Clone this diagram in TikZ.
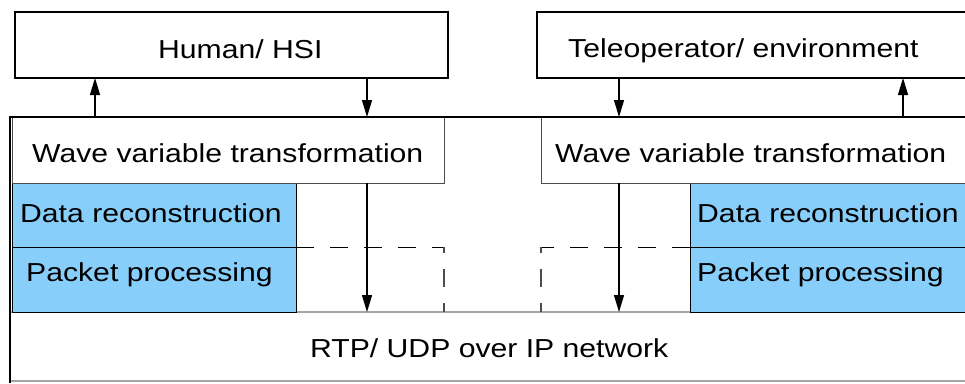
\documentclass[tikz,border=0pt]{standalone}
\usepackage{fontspec}
\setmainfont{Liberation Sans}[FakeStretch=1.16]
\usetikzlibrary{arrows.meta}
\definecolor{skyb}{HTML}{87CEFA}
\tikzset{
  box/.style={draw=black, line width=1.3pt, inner sep=0pt, outer sep=0pt, anchor=north west},
  bluebox/.style={box, fill=skyb, line width=1pt},
  lbl/.style={inner sep=0pt, anchor=base west, font=\fontsize{26}{30}\selectfont},
  dsh/.style={draw=black, line width=1pt, dash pattern=on 18pt off 16pt},
  vdsh/.style={draw=black!70, line width=1.2pt, dash pattern=on 18pt off 16pt, dash phase=12pt},
  arr/.style={line width=1.3pt, -{Triangle[length=17pt,width=10pt]}},
  frame/.style={line width=2.6pt}
}
\begin{document}
\begin{tikzpicture}[x=1pt,y=-1pt]
\clip (0,0) rectangle (965,383);
\fill[white] (0,0) rectangle (965,383);
% top boxes
\node[box, minimum width=433pt, minimum height=66pt] (hsi) at (15,12) {};
\node[box, minimum width=440pt, minimum height=66pt] (tel) at (537,12) {};
\node[lbl] (hsit) at (158,58) {Human/ HSI};
\node[lbl] (telt) at (568,57) {Teleoperator/ environment};
% RTP area
\node[box, draw=gray!70, line width=1.2pt, minimum width=960pt, minimum height=69pt] (rtp) at (10,312) {};
\node[lbl] (rtpt) at (310,357) {RTP/ UDP over IP network};
% blue boxes
\node[bluebox, minimum width=284pt, minimum height=64pt] (drl) at (12,183) {};
\node[bluebox, minimum width=284pt, minimum height=65pt] (ppl) at (12,247) {};
\node[bluebox, minimum width=290pt, minimum height=64pt] (drr) at (690,183) {};
\node[bluebox, minimum width=290pt, minimum height=65pt] (ppr) at (690,247) {};
% wave boxes
\node[box, draw=black!70, line width=1pt, minimum width=432pt, minimum height=66pt] (wl) at (12,117) {};
\node[box, draw=black!70, line width=1pt, minimum width=440pt, minimum height=66pt] (wr) at (541,117) {};
\node[lbl] (wlt) at (32,162) {Wave variable transformation};
\node[lbl] (wrt) at (555,162) {Wave variable transformation};
\node[lbl] (drlt) at (20,222) {Data reconstruction};
\node[lbl] (pplt) at (26,281) {Packet processing};
\node[lbl] (drrt) at (697,222) {Data reconstruction};
\node[lbl] (pprt) at (697,281) {Packet processing};
% dashed boxes
\coordinate (dl1) at (444,247);
\coordinate (dl2) at (444,312);
\coordinate (dr1) at (541,247);
\coordinate (dr2) at (541,312);
\draw[dsh] (ppl.north east) -- (dl1);
\draw[vdsh] (dl1) -- (dl2);
\draw[dsh] (ppr.north west) -- (dr1);
\draw[vdsh] (dr1) -- (dr2);
% frame
\coordinate (f0) at (10,383);
\coordinate (f1) at (10,117);
\coordinate (f2) at (975,117);
\draw[frame] (f0) -- (f1) -- (f2);
% arrows
\coordinate (xa) at (95,0);
\coordinate (xb) at (367,0);
\coordinate (xc) at (619,0);
\coordinate (xd) at (903,0);
\draw[arr] (wl.north -| xa) -- (hsi.south -| xa);
\draw[arr] (hsi.south -| xb) -- (wl.north -| xb);
\draw[arr] (wl.south -| xb) -- (rtp.north -| xb);
\draw[arr] (tel.south -| xc) -- (wr.north -| xc);
\draw[arr] (wr.north -| xd) -- (tel.south -| xd);
\draw[arr] (wr.south -| xc) -- (rtp.north -| xc);
\end{tikzpicture}
\end{document}
